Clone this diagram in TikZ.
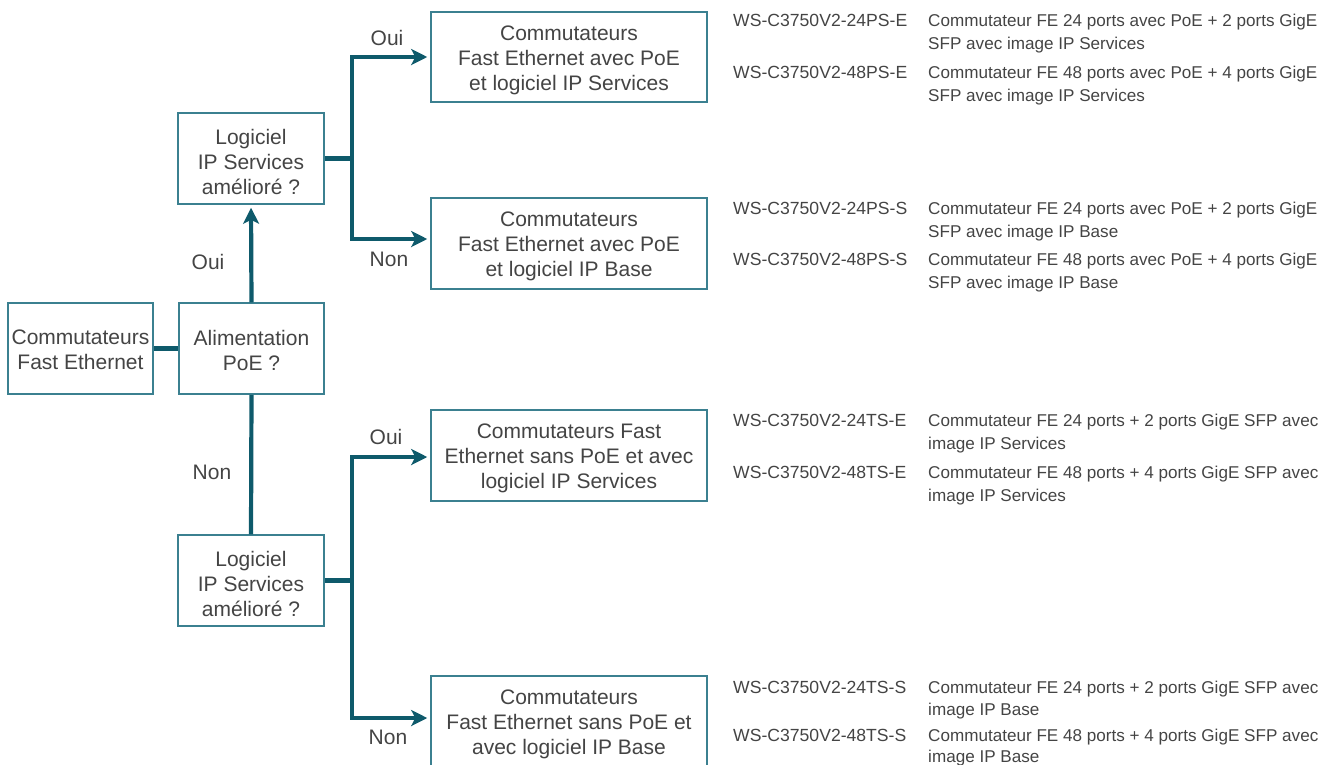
\documentclass[tikz,border=0pt]{standalone}
\usepackage{fontspec}
\setmainfont{Liberation Sans}
\usetikzlibrary{arrows.meta}
\definecolor{conn}{HTML}{0E5A6B}
\definecolor{boxc}{HTML}{3B8090}
\definecolor{txt}{HTML}{444444}
\begin{document}
\begin{tikzpicture}[x=1pt,y=-1pt,
  box/.style={draw=boxc, line width=1.5pt, fill=white, inner sep=0pt},
  boxtext/.style={text=txt, align=center, inner sep=0pt, font=\fontsize{21}{25}\selectfont},
  lbl/.style={text=txt, inner sep=0pt, font=\fontsize{21}{25}\selectfont},
  model/.style={text=txt, inner sep=0pt, anchor=base west, font=\fontsize{17.6}{20}\selectfont},
  desc/.style={text=txt, inner sep=0pt, anchor=base west, font=\fontsize{17.1}{20}\selectfont},
  link/.style={draw=conn, line width=4.2pt},
  arr/.style={link, shorten >=3pt, -{Stealth[length=16pt,width=16pt,inset=4pt]}}]
\useasboundingbox (0,0) rectangle (1331,764);
% boxes
\node[box, minimum width=145pt, minimum height=91pt] (A) at (80.5,348.5) {};
\node[box, minimum width=145pt, minimum height=91pt] (B) at (251.5,348.5) {};
\node[box, minimum width=146pt, minimum height=91pt] (L1) at (251,158.5) {};
\node[box, minimum width=146pt, minimum height=91pt] (L2) at (251,580.5) {};
\node[box, minimum width=276pt, minimum height=90pt] (R1) at (569,57) {};
\node[box, minimum width=276pt, minimum height=91pt] (R2) at (569,243.5) {};
\node[box, minimum width=276pt, minimum height=91pt] (R3) at (569,455.5) {};
\node[box, minimum width=276pt, minimum height=91pt] (R4) at (569,721.5) {};
% box texts
\node[boxtext] (tA) at ([yshift=-1.5pt]A.center) {Commutateurs\\Fast Ethernet};
\node[boxtext] (tB) at ([yshift=-1.5pt]B.center) {Alimentation\\PoE ?};
\node[boxtext] (tL1) at ([yshift=-3pt]L1.center) {Logiciel\\IP Services\\amélioré ?};
\node[boxtext] (tL2) at ([yshift=-3pt]L2.center) {Logiciel\\IP Services\\amélioré ?};
\node[boxtext] (tR1) at ([yshift=-3pt]R1.center) {Commutateurs\\Fast Ethernet avec PoE\\et logiciel IP Services};
\node[boxtext] (tR2) at ([yshift=-3pt]R2.center) {Commutateurs\\Fast Ethernet avec PoE\\et logiciel IP Base};
\node[boxtext] (tR3) at ([yshift=-3pt]R3.center) {Commutateurs Fast\\Ethernet sans PoE et avec\\logiciel IP Services};
\node[boxtext] (tR4) at ([yshift=-3pt]R4.center) {Commutateurs\\Fast Ethernet sans PoE et\\avec logiciel IP Base};
% junctions
\coordinate (j1) at (352,158.5);
\coordinate (j2) at (352,580.5);
\coordinate (y1) at (0,57);
\coordinate (y2) at (0,239);
\coordinate (y3) at (0,457);
\coordinate (y4) at (0,718);
% connectors
\draw[link] (A.east) -- (B.west);
\draw[arr] (B.north) -- (L1.south);
\draw[link] (B.south) -- (L2.north);
\draw[link] (L1.east) -- (j1);
\draw[link] (L2.east) -- (j2);
\draw[arr] (j1) |- (R1.west |- y1);
\draw[arr] (j1) |- (R2.west |- y2);
\draw[arr] (j2) |- (R3.west |- y3);
\draw[arr] (j2) |- (R4.west |- y4);
% labels
\node[lbl] (o1) at (387,38) {Oui};
\node[lbl] (n1) at (389,259) {Non};
\node[lbl] (o2) at (386,437) {Oui};
\node[lbl] (n2) at (388,737) {Non};
\node[lbl] (o0) at (208,262) {Oui};
\node[lbl] (n0) at (212,472) {Non};
% right-side descriptions
\node[model] (m1) at (733,26) {WS-C3750V2-24PS-E};
\node[desc] (d1a) at (928,26) {Commutateur FE 24 ports avec PoE + 2 ports GigE};
\node[desc] (d1b) at (928,49) {SFP avec image IP Services};
\node[model] (m2) at (733,78) {WS-C3750V2-48PS-E};
\node[desc] (d2a) at (928,78) {Commutateur FE 48 ports avec PoE + 4 ports GigE};
\node[desc] (d2b) at (928,101) {SFP avec image IP Services};
\node[model] (m3) at (733,214) {WS-C3750V2-24PS-S};
\node[desc] (d3a) at (928,214) {Commutateur FE 24 ports avec PoE + 2 ports GigE};
\node[desc] (d3b) at (928,237) {SFP avec image IP Base};
\node[model] (m4) at (733,265) {WS-C3750V2-48PS-S};
\node[desc] (d4a) at (928,265) {Commutateur FE 48 ports avec PoE + 4 ports GigE};
\node[desc] (d4b) at (928,288) {SFP avec image IP Base};
\node[model] (m5) at (733,426) {WS-C3750V2-24TS-E};
\node[desc] (d5a) at (928,426) {Commutateur FE 24 ports + 2 ports GigE SFP avec};
\node[desc] (d5b) at (928,449) {image IP Services};
\node[model] (m6) at (733,478) {WS-C3750V2-48TS-E};
\node[desc] (d6a) at (928,478) {Commutateur FE 48 ports + 4 ports GigE SFP avec};
\node[desc] (d6b) at (928,501) {image IP Services};
\node[model] (m7) at (733,693) {WS-C3750V2-24TS-S};
\node[desc] (d7a) at (928,693) {Commutateur FE 24 ports + 2 ports GigE SFP avec};
\node[desc] (d7b) at (928,715) {image IP Base};
\node[model] (m8) at (733,741) {WS-C3750V2-48TS-S};
\node[desc] (d8a) at (928,741) {Commutateur FE 48 ports + 4 ports GigE SFP avec};
\node[desc] (d8b) at (928,762) {image IP Base};
\end{tikzpicture}
\end{document}
